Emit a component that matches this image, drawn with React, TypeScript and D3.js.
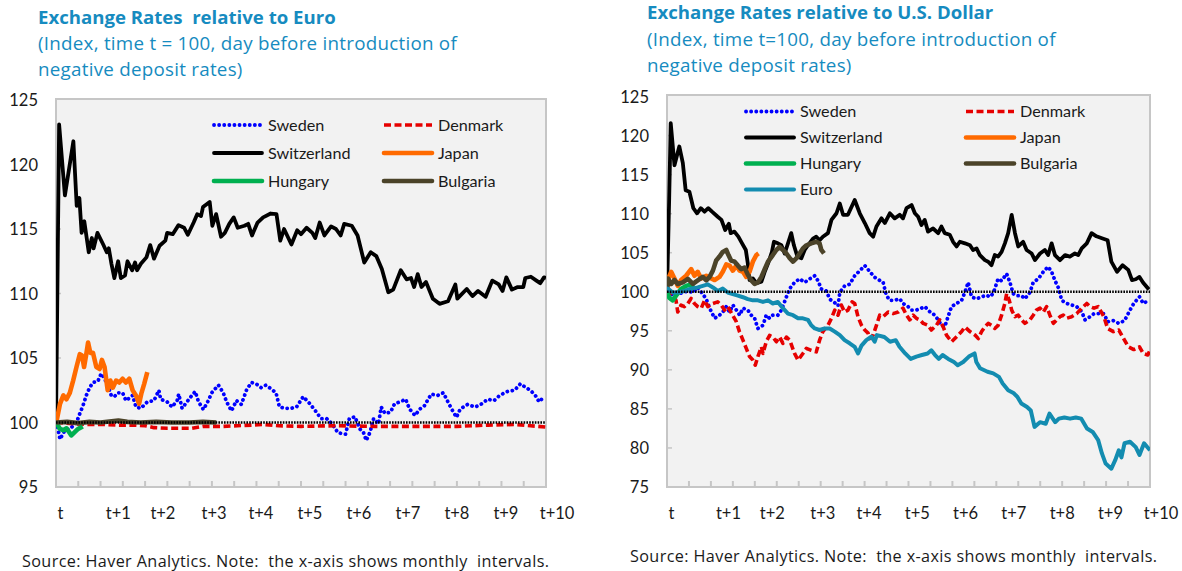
import React from "react";
import * as d3 from "d3";

// ---------- DATA (x = business day since t, value = index, t = 100) ----------
const xTickLabels = ["t", "t+1", "t+2", "t+3", "t+4", "t+5", "t+6", "t+7", "t+8", "t+9", "t+10"];
const xTickLabelDays = [2, 28, 48, 71, 92, 114, 136, 158, 180, 202, 225];
const xTickDays = d3.range(0, 221, 10);

const euroYTicks = [95, 100, 105, 110, 115, 120, 125];
const usdYTicks = [75, 80, 85, 90, 95, 100, 105, 110, 115, 120, 125];

// Relative to Euro
const eurSweden: [number, number][] = [[0,100],[0.8,99.6],[1.8,98.7],[4,99.4],[6.2,99.5],[9.2,100],[10.7,100.7],[12.1,101.3],[13.6,102.1],[15.1,102.7],[16.6,103.1],[18.8,103.2],[20.3,103.8],[21.8,103.4],[23.2,102.9],[24.8,102.1],[26.2,102],[27.7,102.3],[29.9,102.3],[31.4,101.7],[34.4,102.1],[35.9,101.2],[38.1,101.1],[41,101.6],[44,101.7],[46.2,102.5],[47,101.8],[49.9,101.6],[52.1,101.2],[54.4,101.7],[55.1,102.2],[56.6,101.1],[58.8,101.6],[61,102.1],[62.5,102.4],[64,101.6],[66.2,101],[68.4,101.7],[69.9,102.3],[72.9,102.9],[75.1,102.3],[76.6,101.6],[78.8,100.9],[81,101.7],[83.2,101.4],[85.5,102.5],[87.7,103.1],[89.9,103],[92.1,102.7],[94.3,102.9],[96.6,102.6],[98.8,102.3],[100.3,101.2],[103.2,101.1],[105.5,101.1],[108,101.2],[111,102],[114,101.45],[116.5,100.9],[119,100.3],[121.5,100.3],[124,99.9],[126.6,99.2],[130,99.1],[131.7,100.3],[134.2,100.45],[136.4,99.5],[138,99.25],[139.3,98.6],[141,99.25],[142.6,100.3],[144.8,99.9],[146,101.2],[147.7,100.7],[150.2,100.8],[152,101.45],[154.5,101.6],[157,101.8],[158.7,101.05],[161.2,100.55],[163.4,101.05],[165.4,101.3],[168.5,102.2],[171.3,102.1],[173.9,102.3],[176.4,101.45],[178.1,100.9],[179.8,100.4],[181.5,101.05],[184.8,101.4],[188.2,101.2],[190.7,101.4],[193.8,101.8],[196.7,101.7],[199.2,102.1],[202.6,102.4],[205.9,102.5],[208.5,103],[211,102.7],[213,102.5],[215.2,102.1],[216.9,101.6],[219.1,102]];
const eurDenmark: [number, number][] = [[0,100],[8,99.9],[15,99.85],[22,99.85],[28,99.8],[34,99.8],[40,99.75],[44,99.6],[50,99.55],[56,99.55],[61,99.55],[66,99.7],[75,99.7],[88,99.8],[93,99.85],[100,99.75],[110,99.7],[125,99.75],[143,99.7],[160,99.7],[180,99.7],[194,99.8],[206,99.85],[213,99.75],[220,99.65]];
const eurSwitzerland: [number, number][] = [[0,100],[1.4,123.1],[4,117.6],[7.8,121.8],[9.3,116.8],[10.5,117.4],[11.5,114.7],[12.7,115.6],[14.7,113.2],[16.1,114.3],[16.9,113.5],[18.6,114.7],[21.2,113.8],[22.8,113.2],[23.7,113.5],[24.9,112.3],[26.2,111.2],[27.9,112.5],[29.1,111.2],[31,111.4],[32.1,112.5],[34.2,111.8],[35.5,112.4],[36.4,111.8],[38.1,112.3],[40.6,112.8],[42.3,113.75],[44,112.7],[46.5,113.7],[49.1,114.1],[49.9,114.7],[52.4,114.6],[55,115.3],[57.5,115.1],[59.2,114.55],[61.8,115.5],[63.4,116.15],[65.1,116],[66,116.7],[69,117.1],[70.2,115.25],[71.9,116.15],[74.1,114.4],[75.8,114.7],[77.8,115.4],[79.8,115.9],[81.6,115.1],[84.6,115.25],[86.3,115.4],[88,114.5],[90.5,115.5],[93,115.9],[96.4,116.2],[99,116.15],[100.7,114.1],[102.4,115],[105.7,113.8],[108.3,114.9],[110,114.6],[112.5,115.1],[115.1,114.7],[116.4,114.3],[118.4,115.5],[120.5,114.5],[123.5,115.2],[125.7,115],[127.8,114.5],[129.4,115.4],[132.8,115.25],[135.4,114.5],[138.4,112.4],[141.3,113.2],[143.8,112.9],[146.3,111.9],[149.2,110.1],[151.4,110.3],[154.8,111.8],[157.4,111.1],[159.4,111.2],[160.8,110.5],[162.4,111.5],[164.1,110.5],[166.1,110.9],[169.2,109.6],[172.2,109.2],[176,109.4],[179.3,110.7],[180.2,109.6],[184.4,110.35],[187,109.8],[189.5,110.2],[192.9,109.75],[195.9,111],[198.8,110.7],[200.5,110.2],[202.2,111.25],[204.7,110.3],[207.3,110.5],[209.8,110.5],[210.7,111.2],[213.2,111.3],[215.7,111],[217.4,110.8],[219.1,111.25],[220,111.2]];
const eurJapan: [number, number][] = [[0,100],[0.3,100.15],[1.8,101.45],[3.3,102.1],[4.7,101.8],[6.2,102.3],[7.7,103.25],[9.2,104.3],[10.7,105.3],[11.7,105.2],[12.6,104.3],[13.6,105.3],[14.4,106.2],[15.4,105.4],[16.6,105.4],[18.1,104.3],[19.6,104.15],[20.6,104.85],[21.8,104.3],[23.2,102.5],[24.4,103.25],[25.5,102.7],[27,103.25],[28.4,103.1],[29.9,103.4],[31.4,103.1],[32.9,103.4],[34.4,102.5],[35.9,102.1],[37.3,101.45],[38.4,102.3],[39.6,103],[41,103.9]];
const eurHungary: [number, number][] = [[0,100],[1.8,99.5],[3.3,99.4],[4.7,99.55],[6.9,99.0],[8.4,99.25],[9.9,99.5],[12,99.7]];
const eurBulgaria: [number, number][] = [[0,100],[5,100.05],[10,99.95],[15,100.05],[20,100],[25,100.1],[28,100.15],[32,100.05],[38,100],[45,100.05],[52,100],[60,100],[66,100.05],[72,100]];

// Relative to U.S. Dollar
const usdSweden: [number, number][] = [[0,100],[0.4,100.4],[2.6,99.5],[4.9,99.7],[7.2,99.9],[9.5,100.1],[11.8,99.9],[14,100.55],[16.3,99.7],[17.9,99.05],[19.4,97.9],[21.7,96.6],[23.9,97],[25.4,97.4],[27,98.1],[28.5,97.4],[30,98.3],[31.6,97.65],[33.1,97],[34.6,97.9],[36.8,97.65],[38.4,97],[39.9,96.6],[41.4,95.3],[43.7,95.7],[45.2,97],[46.7,96.6],[48.2,97],[50.5,97],[52.1,97.65],[54.4,99.35],[55.9,100.4],[58.1,101.2],[60.4,101.65],[62.7,101.2],[65,101.65],[67.3,102.05],[68.8,101.4],[70.3,100.35],[72.6,100.1],[74.1,99.05],[76.4,98.6],[77.9,98.2],[78.7,99.9],[80.9,100.75],[83.2,100.95],[85.5,102.05],[87.8,102.7],[90.1,103.35],[92.3,102.6],[94.6,101.85],[96.9,101.45],[98.4,101.25],[99.9,99.55],[101.5,98.9],[103.7,98.9],[106,99.1],[107.5,98.5],[109.8,98.1],[111.4,97.65],[113.6,97.65],[115.9,97.9],[117.4,98.1],[119.7,97.45],[122,97],[123.5,96.4],[125,95.7],[126.5,95.5],[128,96.8],[129.6,98.1],[131.9,98.5],[134.2,98.9],[135.7,99.95],[137.2,101.2],[138.7,99.35],[141,99.1],[143.3,99.35],[145.6,99.55],[147.1,99.35],[148.6,99.8],[150.8,101.65],[152.4,101.4],[154.7,102.3],[156.2,101.2],[157.7,99.75],[159.2,99.5],[161.5,99.5],[163,99.1],[165.3,99.9],[166.8,101.2],[169.1,101.65],[171.4,102.55],[173.6,103.2],[175.2,102.55],[176.7,101.45],[178.2,100.55],[179.8,98.9],[182,98.5],[184.3,98.3],[186.6,98.1],[188.9,97.45],[190.4,96.4],[192.7,96.8],[194.5,97.2],[197,97.2],[199,97.2],[200.7,96.15],[203.3,96.3],[205.8,95.95],[208.4,96.3],[210.9,97.65],[212.6,98.5],[215.2,99.35],[216.9,98.5],[219.5,98.9]];
const usdDenmark: [number, number][] = [[0,100],[0.6,100.1],[2.6,99.7],[4.1,98.9],[4.9,97.4],[6.4,98.3],[7.9,98.1],[9.5,98.5],[11,99.15],[12.5,98.5],[14,98.1],[15.6,97.9],[17.1,98.9],[18.6,98.1],[20.9,98.5],[23.1,98.7],[24.7,98.3],[26.2,97.65],[27.7,98.1],[29.5,97.2],[31.5,96.2],[33,94.9],[34.6,93.8],[36.1,92.75],[37.6,91.7],[39.1,91.25],[40.2,90.6],[41.4,91.7],[43,92.95],[43.7,92.1],[45.2,93.6],[46.7,94.4],[48.2,94.2],[49.8,93.6],[51.3,94.2],[52.8,93.4],[54.4,94.2],[55.9,93.8],[58.1,92.1],[59.7,91.25],[61.9,92.1],[63.5,92.75],[65.7,92.5],[68,92.3],[69.5,93.8],[71,94.9],[73.3,95.7],[74.9,96.6],[76.4,97.65],[77.9,97],[79.4,98.3],[80.9,97.4],[82.4,97.65],[84.3,98.7],[85.5,98.5],[87,96.8],[88.6,95.7],[90.1,95.1],[91.6,94.7],[92.3,94],[93.9,94.45],[95.4,95.7],[96.9,97],[98.4,96.8],[100.7,97.4],[103,97.2],[105.3,97.4],[107.5,97.9],[109.1,97],[110.6,96.4],[112.1,97],[113.6,96.6],[115.1,96.4],[116.7,95.95],[118.9,95.7],[120.4,95.1],[122.7,95.7],[124.2,96.4],[125.8,95.5],[127.3,94.45],[129.6,93.6],[131.9,94.25],[134.2,94.9],[135.7,95.5],[138,94.9],[140.3,94.45],[141.8,94],[143.3,94.9],[144.8,95.5],[146.3,95.95],[147.8,95.7],[149.3,95.3],[150.8,95.7],[152.4,97],[153.9,98.5],[154.7,99.75],[155.9,98.9],[157,97.65],[158.5,96.8],[160,97],[161.5,96.4],[163,95.95],[165.3,96.4],[166.8,97],[168.3,97.65],[169.9,97.9],[171.4,97.4],[172.9,98.1],[174.4,97],[176,95.95],[177.5,96.4],[179,96.8],[180.5,97],[182,96.6],[184.3,96.8],[186.6,97.2],[188.9,97.9],[191.2,98.5],[192.7,98.1],[194.5,97.9],[196.4,98.1],[199,96.8],[200.7,95.3],[203.3,94.9],[205.8,95.1],[207.5,94.25],[210.1,92.95],[212.6,92.6],[215.2,92.95],[216.9,92.1],[219,91.9],[220,92.5]];
const usdSwitzerland: [number, number][] = [[0,100],[1,112],[1.7,121.6],[3.4,116.2],[4.6,117.5],[5.6,118.6],[7.2,116.5],[8.5,113],[10.2,112.8],[12,110.7],[13.7,110.05],[15.4,110.7],[17.1,110.25],[18.8,110.7],[20.5,110.25],[23.1,109.6],[24.8,109.2],[26.5,107.9],[28.2,108.7],[29,107.5],[30.7,107.7],[32.5,107.05],[34.2,106.2],[35.9,105.35],[36.8,103.65],[37.6,101.5],[39.1,101.7],[40.7,101.1],[43,101.3],[44.5,102.55],[46,103.6],[47.8,105.1],[48.7,106.4],[50.5,106.2],[52.1,105.95],[53.6,104.9],[55.1,106.2],[56.6,107.5],[57.8,105.95],[59.4,104.5],[61.2,104.3],[62.7,105.35],[64.2,105.95],[66.5,106.8],[68,107.05],[69.5,106.6],[71,107.05],[73.3,107.5],[74.9,109.2],[77.2,110.05],[78.7,111.3],[80.2,109.85],[82.4,109.85],[85.5,111.75],[87.8,110.05],[90.1,108.8],[92.3,107.5],[93.9,107.05],[95.4,108.35],[97.7,109.4],[99.2,108.8],[101.5,110.05],[103.7,109.4],[106,109.85],[107.5,109.4],[109.1,110.7],[111.4,111.1],[112.9,110.05],[114.4,109.6],[115.9,108.55],[117.4,109.2],[118.9,107.7],[121.2,108.1],[123.5,107.5],[125,108.35],[126.5,107.5],[128.8,107.3],[130.3,106.4],[131.9,105.8],[133.4,106.4],[135.7,106.2],[138,105.95],[139.4,105.35],[141,105.55],[142.5,104.7],[144.8,104.05],[146.3,103.85],[147.8,103.4],[149.3,104.7],[150.8,104.5],[152.4,105.1],[153.9,106.2],[155.4,107.5],[157,109.85],[158.5,107.5],[160,105.8],[162.2,106.4],[163.8,105.35],[166.1,104.9],[167.6,104.05],[169.9,104.9],[172.1,105.35],[173.6,104.7],[175.2,106.2],[176.7,104.7],[179,104.05],[181.3,104.7],[183.5,104.5],[185.8,104.9],[187.3,104.7],[188.9,105.55],[191.2,106.2],[193.4,107.5],[195.6,107.1],[198.1,106.85],[200.7,106.6],[202.4,103.85],[205,102.55],[207.5,103.4],[210.1,102.8],[211.8,101.5],[213.5,101.6],[215.2,101.9],[216.9,101.15],[219.5,100.3]];
const usdJapan: [number, number][] = [[0,100],[0.4,101.5],[1.9,102.55],[3.4,101.7],[4.9,100.75],[6.4,101.5],[8.7,102.05],[11,102.9],[12.5,102.05],[14,102.55],[15.6,101.7],[17.9,102.05],[20.1,101.7],[21.7,101.5],[23.9,101.9],[25.4,102.55],[27,103.5],[28.5,103.35],[30,102.7],[31.6,103.35],[33.1,102.7],[34.6,102.55],[36.1,101.9],[37.6,102.55],[39.1,103.85],[40.7,104.7],[41.7,104.9]];
const usdHungary: [number, number][] = [[0,100],[0.4,99.7],[1.1,99.2],[2.6,98.9],[4.1,99.5],[6.4,100.35],[8.7,100.75],[11,100.95],[12.5,100.75]];
const usdBulgaria: [number, number][] = [[0,100],[0.4,101.7],[1.9,101],[3.4,101.5],[4.9,101],[7.2,101.2],[9.5,101.65],[11.8,101],[14,101.45],[16.3,101.9],[17.9,101.45],[19.4,101.9],[20.9,102.7],[22.4,104],[23.9,104.5],[25.4,105.1],[27,105.35],[28,104.7],[29.2,104],[30.8,103.85],[32.3,103.35],[33.8,102.9],[35.3,103.1],[36.8,102.2],[38.4,101.45],[39.9,101],[41.4,101.2],[43,101.9],[44.5,102.9],[46,103.85],[48.2,104.7],[49.8,105.35],[51.3,105.75],[52.8,105.35],[54.4,104.9],[55.9,104.3],[57.4,103.85],[59,104.3],[60.4,104.9],[61.9,105.55],[63.5,105.95],[65.7,106.2],[68,106.4],[69.5,106.2],[70.3,105.35],[71.5,104.9]];
const usdEuro: [number, number][] = [[0,100],[0.4,100.4],[2.6,99.9],[4.9,99.9],[7.9,100.1],[11,100.4],[14,100.55],[16.3,100.75],[18.6,100.95],[20.9,100.55],[23.1,100.1],[25.4,100.4],[27.7,99.9],[30,99.7],[32.3,99.5],[34.6,99.3],[36.8,99.05],[39.1,98.9],[41.4,98.9],[43.7,98.7],[46,98.9],[48.2,98.5],[50.5,98.7],[52.8,97.9],[55.1,97.2],[57.4,97],[59.7,96.6],[61.9,96.6],[64.2,96.4],[65.7,95.7],[67.3,95.3],[69.5,95.1],[71.8,95.3],[74.1,95.3],[76.4,94.9],[78.7,94.45],[80.9,93.8],[83.2,93.4],[85.5,92.95],[87,92.1],[88.6,93.1],[90.8,93.8],[93.1,94.25],[94.6,93.6],[95.6,94.45],[99,94.2],[101.6,93.6],[104.2,93.8],[105.9,92.95],[108.5,92.1],[111,91.4],[113.6,91.7],[116.1,91.9],[118.7,92.1],[120.4,92.5],[122.1,91.9],[123.8,91.4],[125.5,91.9],[128.1,91.4],[130.7,91],[132.4,90.6],[134.9,91],[137.5,91.7],[140.1,92.1],[140.9,91],[142.6,90.2],[146,89.75],[148.6,89.55],[151.2,89.1],[152.9,88.25],[155.4,87.4],[158,87],[159.7,86.5],[161.4,85.7],[164,85.25],[165.7,84.8],[167.4,82.7],[169.9,83.3],[172.5,83.1],[174.2,84.4],[176.8,83.3],[178.5,83.75],[181,83.9],[183.6,83.75],[186.2,83.9],[188.7,83.75],[191.3,82.5],[193.9,82.05],[196.4,81],[198.1,79.3],[199.8,78],[202.4,77.35],[204.1,78.4],[205.8,79.7],[207,78.8],[208.4,80.6],[210.9,80.8],[213.5,80.1],[215.2,79.1],[217.3,80.6],[220,79.7]];

// ---------- STYLES ----------
type Style = { stroke: string; width: number; dash?: string; cap?: "round" | "butt" };
const styles: Record<string, Style> = {
  Sweden: { stroke: "#0000ff", width: 3.8, dash: "0.1 5", cap: "round" },
  Denmark: { stroke: "#e60000", width: 3.6, dash: "7 3.5", cap: "butt" },
  Switzerland: { stroke: "#000000", width: 3.8 },
  Japan: { stroke: "#ff6a00", width: 4.6 },
  Hungary: { stroke: "#00b050", width: 4.6 },
  Bulgaria: { stroke: "#4b4329", width: 4.6 },
  Euro: { stroke: "#138cb0", width: 4 },
};

const TITLE_COLOR = "#168bc0";
const FONT = "Lato, 'Open Sans', sans-serif";
const WIDE_FONT = "'Open Sans', Lato, sans-serif";

type PanelProps = {
  x0: number; x1: number; yTop: number; yBottom: number; boxTop: number;
  yDomain: [number, number]; yTicks: number[];
  series: { name: string; data: [number, number][] }[];
  legendCols: [number, number]; legendRows: number[];
  title: string; subtitle: string[]; titleX: number; titleY: number; subY: number[];
  labelRight: number; source: string; sourceX: number; sourceY: number;
  id: string;
};

function Panel(p: PanelProps) {
  const x = d3.scaleLinear().domain([0, 220]).range([p.x0, p.x1]);
  const y = d3.scaleLinear().domain(p.yDomain).range([p.yBottom, p.yTop]);
  const line = d3.line<[number, number]>().x((d) => x(d[0])).y((d) => y(d[1]));
  const order = ["Sweden", "Denmark", "Switzerland", "Japan", "Hungary", "Bulgaria", "Euro"];
  const drawn = order.map((n) => p.series.find((s) => s.name === n)).filter(Boolean) as PanelProps["series"];
  return (
    <g>
      <text x={p.titleX} y={p.titleY} fill={TITLE_COLOR} fontFamily={WIDE_FONT} fontWeight={700} fontSize={18.6} style={{ whiteSpace: "pre" }}>{p.title}</text>
      {p.subtitle.map((s, i) => (
        <text key={i} x={p.titleX} y={p.subY[i]} fill={TITLE_COLOR} fontFamily={WIDE_FONT} fontSize={18.8} letterSpacing={0.25}>{s}</text>
      ))}
      <clipPath id={p.id}>
        <rect x={p.x0} y={p.boxTop} width={p.x1 - p.x0} height={p.yBottom - p.boxTop} />
      </clipPath>
      <rect x={p.x0} y={p.boxTop} width={p.x1 - p.x0} height={p.yBottom - p.boxTop} fill="#f2f2f2" stroke="#c6c6c6" strokeWidth={2} />
      {xTickDays.slice(1, -1).map((d) => (
        <line key={d} x1={x(d)} x2={x(d)} y1={p.yBottom} y2={p.yBottom - 6} stroke="#c6c6c6" strokeWidth={2} />
      ))}
      {p.yTicks.slice(1, -1).map((v) => (
        <line key={v} x1={p.x0} x2={p.x0 + 5} y1={y(v)} y2={y(v)} stroke="#c6c6c6" strokeWidth={1.5} />
      ))}
      {p.yTicks.map((v) => (
        <text key={v} x={p.labelRight} y={y(v) + 6} textAnchor="end" fontFamily={FONT} fontSize={16.5} fill="#1a1a1a">{v}</text>
      ))}
      {xTickLabels.map((t, i) => (
        <text key={t} x={x(xTickLabelDays[i])} y={519} textAnchor="middle" fontFamily={FONT} fontSize={16.5} fill="#1a1a1a">{t}</text>
      ))}
      <g clipPath={`url(#${p.id})`}>
        {drawn.map((s) => {
          const st = styles[s.name];
          return (
            <path key={s.name} d={line(s.data) || ""} fill="none" stroke={st.stroke} strokeWidth={st.width}
              strokeDasharray={st.dash} strokeLinecap={st.cap || "butt"} strokeLinejoin="round" />
          );
        })}
        <line x1={p.x0} x2={p.x1} y1={y(100)} y2={y(100)} stroke="#000" strokeWidth={2.4} strokeDasharray="1.6 1.2" />
      </g>
      {p.series.map((s, i) => {
        const st = styles[s.name];
        const col = i % 2;
        const row = Math.floor(i / 2);
        const lx = p.legendCols[col];
        const ly = p.legendRows[row];
        return (
          <g key={s.name}>
            <line x1={lx} x2={lx + 48} y1={ly} y2={ly} stroke={st.stroke} strokeWidth={st.width}
              strokeDasharray={st.dash} strokeLinecap={st.cap || "round"} />
            <text x={lx + 54} y={ly + 5.5} fontFamily={FONT} fontSize={16.2} fill="#1a1a1a">{s.name}</text>
          </g>
        );
      })}
      <text x={p.sourceX} y={p.sourceY} fontFamily={WIDE_FONT} fontSize={16.2} letterSpacing={0.38} fill="#1a1a1a" style={{ whiteSpace: "pre" }}>{p.source}</text>
    </g>
  );
}

export default function App() {
  const source = "Source: Haver Analytics. Note:  the x-axis shows monthly  intervals.";
  return (
    <div style={{ position: "absolute", left: 0, top: 0 }}>
      <svg width={1182} height={571} style={{ display: "block", background: "#fff" }}>
        <Panel
          id="clipEur"
          x0={56} x1={546} yTop={100} yBottom={487} boxTop={99}
          yDomain={[95, 125]} yTicks={euroYTicks}
          series={[
            { name: "Sweden", data: eurSweden },
            { name: "Denmark", data: eurDenmark },
            { name: "Switzerland", data: eurSwitzerland },
            { name: "Japan", data: eurJapan },
            { name: "Hungary", data: eurHungary },
            { name: "Bulgaria", data: eurBulgaria },
          ]}
          legendCols={[214, 384]} legendRows={[125, 153, 181]}
          title="Exchange Rates  relative to Euro"
          subtitle={["(Index, time t = 100, day before introduction of", "negative deposit rates)"]}
          titleX={38} titleY={24} subY={[50, 76]}
          labelRight={38}
          source={source} sourceX={22} sourceY={567}
        />
        <Panel
          id="clipUsd"
          x0={667} x1={1150} yTop={96.5} yBottom={487} boxTop={95}
          yDomain={[75, 125]} yTicks={usdYTicks}
          series={[
            { name: "Sweden", data: usdSweden },
            { name: "Denmark", data: usdDenmark },
            { name: "Switzerland", data: usdSwitzerland },
            { name: "Japan", data: usdJapan },
            { name: "Hungary", data: usdHungary },
            { name: "Bulgaria", data: usdBulgaria },
            { name: "Euro", data: usdEuro },
          ]}
          legendCols={[746, 966]} legendRows={[111.5, 137.5, 163.5, 189.5]}
          title="Exchange Rates relative to U.S. Dollar"
          subtitle={["(Index, time t=100, day before introduction of", "negative deposit rates)"]}
          titleX={647} titleY={19} subY={[46, 72]}
          labelRight={649}
          source={source} sourceX={630} sourceY={562}
        />
      </svg>
    </div>
  );
}
